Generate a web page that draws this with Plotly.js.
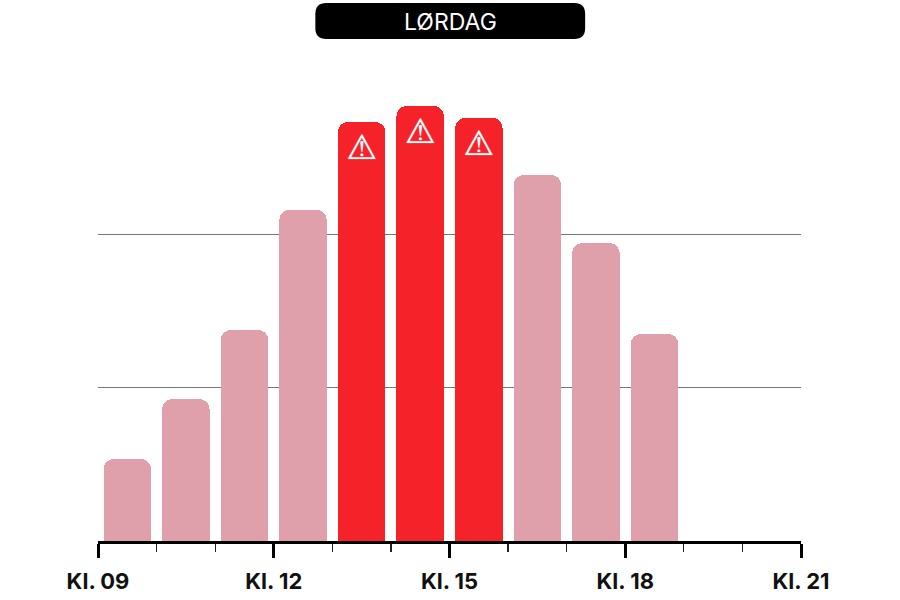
<!DOCTYPE html>
<html>
<head>
<meta charset="utf-8">
<script src="https://cdn.plot.ly/plotly-3.0.0.min.js"></script>
<style>html,body{margin:0;padding:0;background:#fff}#c{width:900px;height:600px}</style>
</head>
<body>
<div id="c"></div>
<script>
const hours = [9.5,10.5,11.5,12.5,13.5,14.5,15.5,16.5,17.5,18.5];
const values = [53.5,92.6,137.7,216,273.4,283.8,276,238.8,194.4,135];
const warned = [false,false,false,false,true,true,true,false,false,false];
const tickHours = [9,12,15,18,21];
const tickLabels = ["Kl. 09","Kl. 12","Kl. 15","Kl. 18","Kl. 21"];
const titleText = "LØRDAG";
const calmColor = "#DFA0AB";
const alertColor = "#F52229";

const iconX = hours.filter((h,i)=>warned[i]);
const iconY = values.filter((v,i)=>warned[i]).map(v=>v-18.5);

const W=900,H=600,mL=97.5,mR=99,mT=60,mB=59;
const px=x=>(x-mL)/(W-mL-mR), py=y=>(H-mB-y)/(H-mT-mB);
function pill(x0,y0,x1,y1,r){
  return `M${px(x0+r)},${py(y0)} L${px(x1-r)},${py(y0)} Q${px(x1)},${py(y0)} ${px(x1)},${py(y0+r)} `+
         `L${px(x1)},${py(y1-r)} Q${px(x1)},${py(y1)} ${px(x1-r)},${py(y1)} `+
         `L${px(x0+r)},${py(y1)} Q${px(x0)},${py(y1)} ${px(x0)},${py(y1-r)} `+
         `L${px(x0)},${py(y0+r)} Q${px(x0)},${py(y0)} ${px(x0+r)},${py(y0)} Z`;
}

const traces = [
 {type:"bar",x:hours,y:values,width:0.81,
  marker:{color:warned.map(w=>w?alertColor:calmColor),cornerradius:10,line:{width:0}},
  hoverinfo:"skip"},
 {type:"scatter",mode:"text",x:iconX,y:iconY,
  text:iconX.map(()=>"\u26A0\uFE0E"),textposition:"middle center",
  textfont:{family:"DejaVu Sans",size:34,color:"#fff",shadow:"0 0 1px #fff"},
  hoverinfo:"skip",cliponaxis:false}
];
const layout = {
 width:W,height:H,showlegend:false,paper_bgcolor:"#fff",plot_bgcolor:"#fff",
 margin:{l:mL,r:mR,t:mT,b:mB,pad:0},
 bargap:0,
 xaxis:{range:[9,21],tickmode:"array",tickvals:tickHours,ticktext:tickLabels,
  ticks:"outside",ticklen:14,tickwidth:3,tickcolor:"#000",ticklabelstandoff:5,
  minor:{dtick:1,ticks:"outside",ticklen:8,tickwidth:1.3,tickcolor:"#222",showgrid:false},
  showline:true,linecolor:"#000",linewidth:3,showgrid:false,zeroline:false,
  tickangle:0,tickfont:{family:"Inter, Roboto, sans-serif",size:22,color:"#111",weight:700},automargin:false},
 yaxis:{range:[0,313.8],tickmode:"array",tickvals:[100,200],showticklabels:false,ticks:"",
  showgrid:true,gridcolor:"#777",gridwidth:1,zeroline:false,showline:false},
 shapes:[{type:"path",xref:"paper",yref:"paper",path:pill(315,3,585,39,11),fillcolor:"#000",line:{width:0}}],
 annotations:[{xref:"paper",yref:"paper",x:px(450),y:py(22),text:titleText,showarrow:false,
  xanchor:"center",yanchor:"middle",font:{family:"Inter, Roboto, sans-serif",size:23,color:"#fff"}}]
};
Plotly.newPlot("c",traces,layout,{displayModeBar:false,staticPlot:true});
</script>
</body>
</html>
